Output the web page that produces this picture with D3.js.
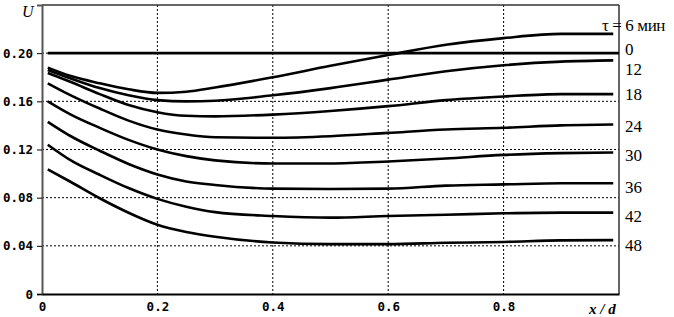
<!DOCTYPE html>
<html>
<head>
<meta charset="utf-8">
<script src="https://cdn.jsdelivr.net/npm/d3@7"></script>
<style>
  body { margin: 0; background: #fff; }
  svg { display: block; }
  .tick text { font-family: "DejaVu Sans Mono", monospace; font-weight: bold; font-size: 12.5px; fill: #000; }
</style>
</head>
<body>
<svg id="chart" width="674" height="317"></svg>
<script>
// x / d positions where the curves were read
const xs = [0.01, 0.05, 0.1, 0.15, 0.2, 0.25, 0.3, 0.4, 0.5, 0.6, 0.7, 0.8, 0.9, 0.99];

// U values for each time (minutes)
const times = ["6", "0", "12", "18", "24", "30", "36", "42", "48"];
const u6  = [0.188, 0.181, 0.175, 0.170, 0.167, 0.168, 0.1715, 0.180, 0.1895, 0.1985, 0.207, 0.2125, 0.216, 0.216];
const u0  = [0.20, 0.20, 0.20, 0.20, 0.20, 0.20, 0.20, 0.20, 0.20, 0.20, 0.20, 0.20, 0.20, 0.20];
const u12 = [0.186, 0.179, 0.171, 0.165, 0.161, 0.160, 0.1605, 0.165, 0.171, 0.178, 0.185, 0.190, 0.193, 0.194];
const u18 = [0.1835, 0.176, 0.166, 0.157, 0.151, 0.148, 0.1475, 0.149, 0.152, 0.156, 0.161, 0.164, 0.166, 0.166];
const u24 = [0.175, 0.165, 0.154, 0.144, 0.1366, 0.1325, 0.1302, 0.1297, 0.131, 0.1338, 0.1366, 0.138, 0.140, 0.1407];
const u30 = [0.160, 0.149, 0.138, 0.128, 0.120, 0.1145, 0.111, 0.1084, 0.1084, 0.110, 0.1125, 0.1155, 0.117, 0.1175];
const u36 = [0.143, 0.131, 0.119, 0.108, 0.0993, 0.0935, 0.0905, 0.0875, 0.0872, 0.0875, 0.090, 0.091, 0.092, 0.092];
const u42 = [0.124, 0.111, 0.099, 0.088, 0.079, 0.0725, 0.068, 0.0648, 0.0634, 0.0648, 0.0658, 0.067, 0.0676, 0.0676];
const u48 = [0.1035, 0.093, 0.0795, 0.0675, 0.0575, 0.0515, 0.0475, 0.0428, 0.0414, 0.0414, 0.0425, 0.0432, 0.0445, 0.0447];
const series = [u6, u0, u12, u18, u24, u30, u36, u42, u48];

const yTicks = [0, 0.04, 0.08, 0.12, 0.16, 0.20];
const xTicks = [0, 0.2, 0.4, 0.6, 0.8];

const svg = d3.select("#chart");
const margin = { top: 5, right: 55, bottom: 23, left: 42 };
const width = +svg.attr("width") - margin.left - margin.right;
const height = +svg.attr("height") - margin.top - margin.bottom;
const g = svg.append("g").attr("transform", `translate(${margin.left},${margin.top})`);

const x = d3.scaleLinear().domain([0, 1]).range([0, width]);
const y = d3.scaleLinear().domain([0, 0.24]).range([height, 0]);

// dotted grid
g.selectAll(".hgrid").data(yTicks.filter(d => d > 0)).enter().append("line")
  .attr("x1", 0).attr("x2", width)
  .attr("y1", d => y(d)).attr("y2", d => y(d))
  .attr("stroke", "#000").attr("stroke-width", 1).attr("stroke-dasharray", "2,2");
g.selectAll(".vgrid").data(xTicks.filter(d => d > 0)).enter().append("line")
  .attr("x1", d => x(d)).attr("x2", d => x(d))
  .attr("y1", 0).attr("y2", height)
  .attr("stroke", "#000").attr("stroke-width", 1).attr("stroke-dasharray", "2,2");

// frame top / right
g.append("line").attr("x1", 0).attr("x2", width).attr("y1", 0).attr("y2", 0)
  .attr("stroke", "#333").attr("stroke-width", 1.5);
g.append("line").attr("x1", width).attr("x2", width).attr("y1", 0).attr("y2", height)
  .attr("stroke", "#333").attr("stroke-width", 1.5);

// axes
const yAxis = g.append("g")
  .call(d3.axisLeft(y).tickValues(yTicks).tickSize(5).tickPadding(4)
    .tickFormat(d => d === 0 ? "0" : d.toFixed(2)));
yAxis.select(".domain").attr("stroke", "#555").attr("stroke-width", 2);
yAxis.selectAll(".tick line").attr("stroke", "#000");

const xAxis = g.append("g")
  .attr("transform", `translate(0,${height})`)
  .call(d3.axisBottom(x).tickValues(xTicks).tickSize(0).tickPadding(8)
    .tickFormat(d => d === 0 ? "0" : d.toFixed(1)));
xAxis.select(".domain").attr("stroke", "#000").attr("stroke-width", 2);

// curves
const line = d3.line()
  .x((d, i) => x(xs[i]))
  .y(d => y(d))
  .curve(d3.curveMonotoneX);

g.selectAll(".curve").data(series).enter().append("path")
  .attr("d", (d, i) => i === 1
    ? d3.line()([[x(0.01), y(0.20)], [width, y(0.20)]])
    : line(d))
  .attr("fill", "none")
  .attr("stroke", "#000")
  .attr("stroke-width", 2.6);

// curve labels on the right
const nudge = [-9, -4, 9, 0, 1.5, 2.5, 3.5, 3.5, 5];
g.selectAll(".lab").data(series).enter().append("text")
  .attr("x", (d, i) => i === 0 ? width - 17 : width + 6)
  .attr("y", (d, i) => y(d[d.length - 1]) + nudge[i])
  .attr("dy", "0.35em")
  .attr("font-family", "Liberation Serif, serif")
  .attr("font-size", 17)
  .attr("letter-spacing", (d, i) => i === 0 ? -0.4 : 0)
  .attr("fill", "#000")
  .text((d, i) => i === 0 ? "τ = " + times[i] + " мин" : times[i]);

// axis titles
svg.append("text")
  .attr("x", 22).attr("y", 17)
  .attr("font-family", "Liberation Serif, serif")
  .attr("font-style", "italic")
  .attr("font-size", 16)
  .text("U");

svg.append("text")
  .attr("x", 589).attr("y", 314)
  .attr("font-family", "Liberation Serif, serif")
  .attr("font-style", "italic")
  .attr("font-weight", "bold")
  .attr("font-size", 15)
  .text("x / d");
</script>
</body>
</html>
